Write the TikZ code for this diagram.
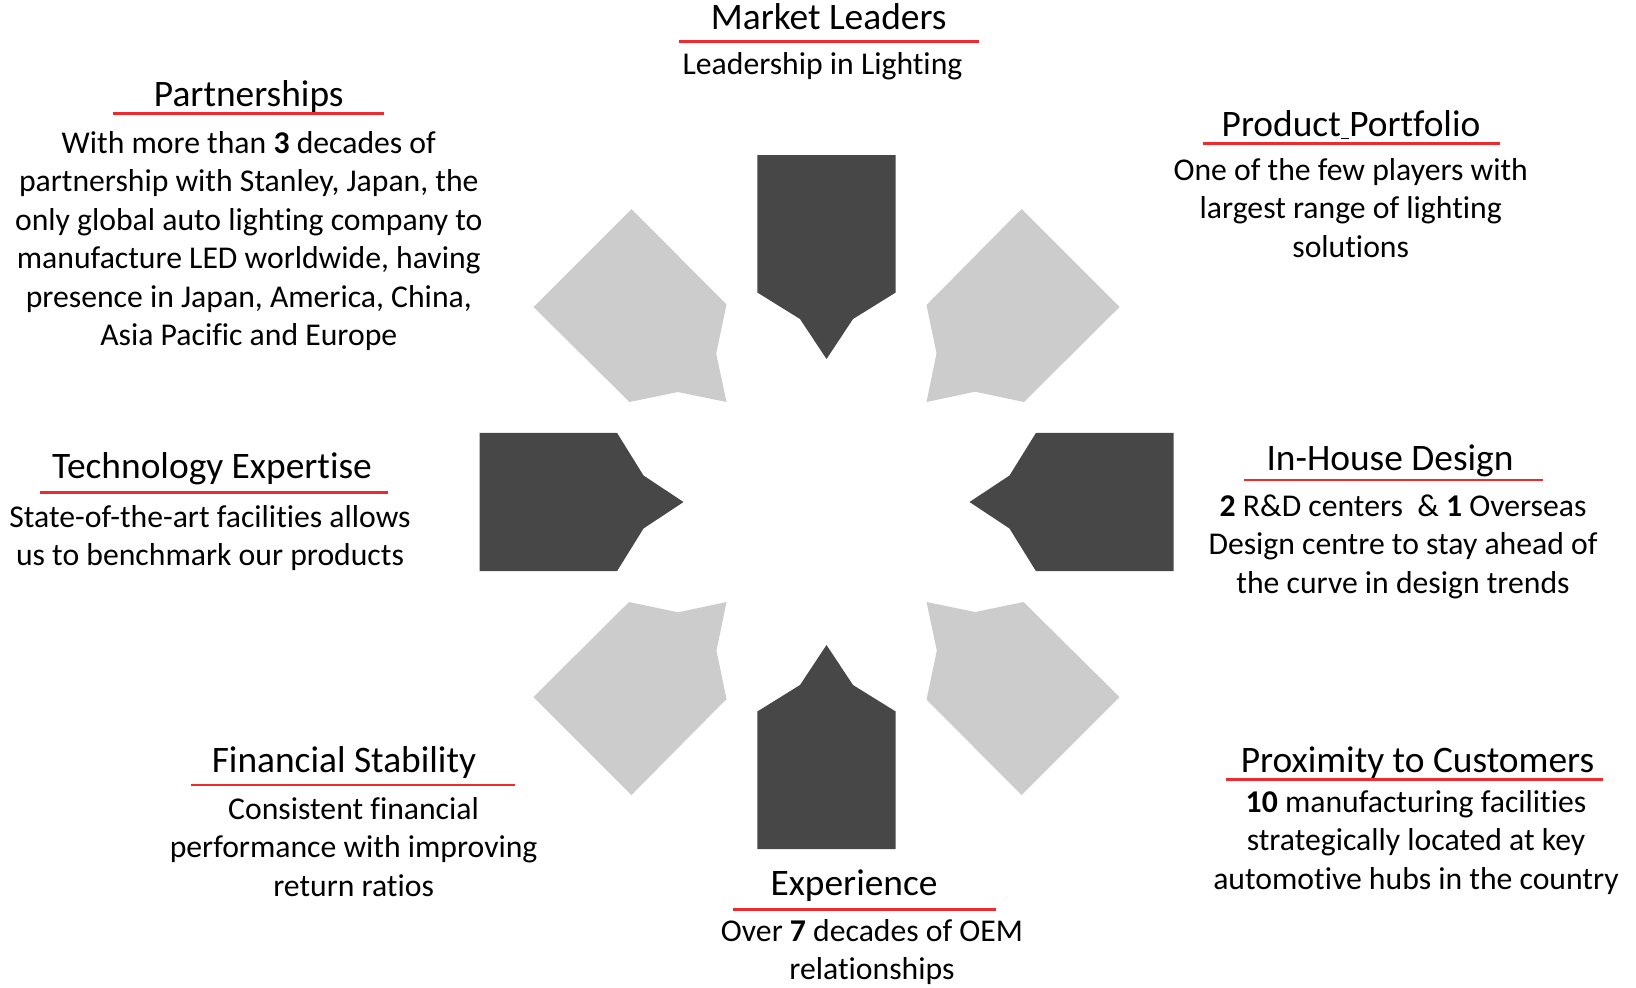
\documentclass[tikz,border=0pt]{standalone}
\usepackage{fontspec}
\setmainfont{Carlito}[Ligatures={NoCommon}]
\definecolor{darkg}{HTML}{474747}
\definecolor{lightg}{HTML}{CCCCCC}
\definecolor{redl}{HTML}{EE2A2F}
\begin{document}
\begin{tikzpicture}[x=0.5pt,y=-0.5pt,
  ttl/.style={anchor=base,inner sep=0pt,font=\fontsize{18.7}{22}\selectfont},
  bdy/.style={anchor=north,inner sep=0pt,align=center,font=\fontsize{15.85}{19.25}\selectfont,execute at begin node=\strut},
  uline/.style={draw=redl,line width=1.3pt},
  darkarrow/.style={fill=darkg},
  lightarrow/.style={fill=lightg}]
\useasboundingbox (0,0) rectangle (1636,987);
\coordinate (c) at (826.5,502);
% dark arrows
\foreach \a in {0,90,180,270}{
  \begin{scope}[shift={(c)},rotate=\a]
    \fill[darkarrow] (-69.2,-347) -- (69.2,-347) -- (69.2,-209.5) -- (26.5,-183) -- (0,-143) -- (-26.5,-183) -- (-69.2,-209.5) -- cycle;
  \end{scope}
}
% light arrows
\foreach \a in {0,90,180,270}{
  \begin{scope}[shift={(c)},rotate=\a]
    \fill[lightarrow] (100,-100) -- (148.5,-110.3) -- (197.5,-100) -- (293,-195) -- (195,-293) -- (100,-197) -- (110,-148.7) -- cycle;
  \end{scope}
}
% Market Leaders
\node[ttl] (mlt) at (828.7,29.3) {Market Leaders};
\draw[uline] (678.5,41.7) -- (978.5,41.7);
\node[bdy] (mlb) at (822.5,47) {Leadership in Lighting};
% Partnerships
\node[ttl] (pat) at (248.8,106.7) {Partnerships};
\draw[uline] (113,113.3) -- (384,113.3);
\node[bdy] (pab) at (248.8,130.7) {With more than \textbf{3} decades of\\partnership with Stanley, Japan, the\\only global auto lighting company to\\manufacture LED worldwide, having\\presence in Japan, America, China,\\Asia Pacific and Europe};
% Product Portfolio
\node[ttl] (ppt) at (1351,136) {Product\underline{\ }Portfolio};
\draw[uline] (1202.6,143.6) -- (1500,143.6);
\node[bdy] (ppb) at (1350.7,158) {One of the few players with\\largest range of lighting\\solutions};
% In-House Design
\node[ttl] (iht) at (1390,470.7) {In-House Design};
\draw[uline] (1244,480) -- (1543,480);
\node[bdy] (ihb) at (1403,494.3) {\textbf{2} R\&D centers\ \ \& \textbf{1} Overseas\\Design centre to stay ahead of\\the curve in design trends};
% Technology Expertise
\node[ttl] (tet) at (212,478) {Technology Expertise};
\draw[uline] (39.6,492.5) -- (388,492.5);
\node[bdy] (teb) at (210,505) {State-of-the-art facilities allows\\us to benchmark our products};
% Financial Stability
\node[ttl] (fst) at (344,772) {Financial Stability};
\draw[uline] (191,785) -- (515,785);
\node[bdy] (fsb) at (353.6,796.6) {Consistent financial\\performance with improving\\return ratios};
% Experience
\node[ttl] (ext) at (854,895) {Experience};
\draw[uline] (733,909.7) -- (996,909.7);
\node[bdy] (exb) at (872,919) {Over \textbf{7} decades of OEM\\relationships};
% Proximity to Customers
\node[ttl] (prt) at (1417.5,772.7) {Proximity to Customers};
\draw[uline] (1226,779.3) -- (1603,779.3);
\node[bdy] (prb) at (1416,790) {\textbf{10} manufacturing facilities\\strategically located at key\\automotive hubs in the country};
\end{tikzpicture}
\end{document}
